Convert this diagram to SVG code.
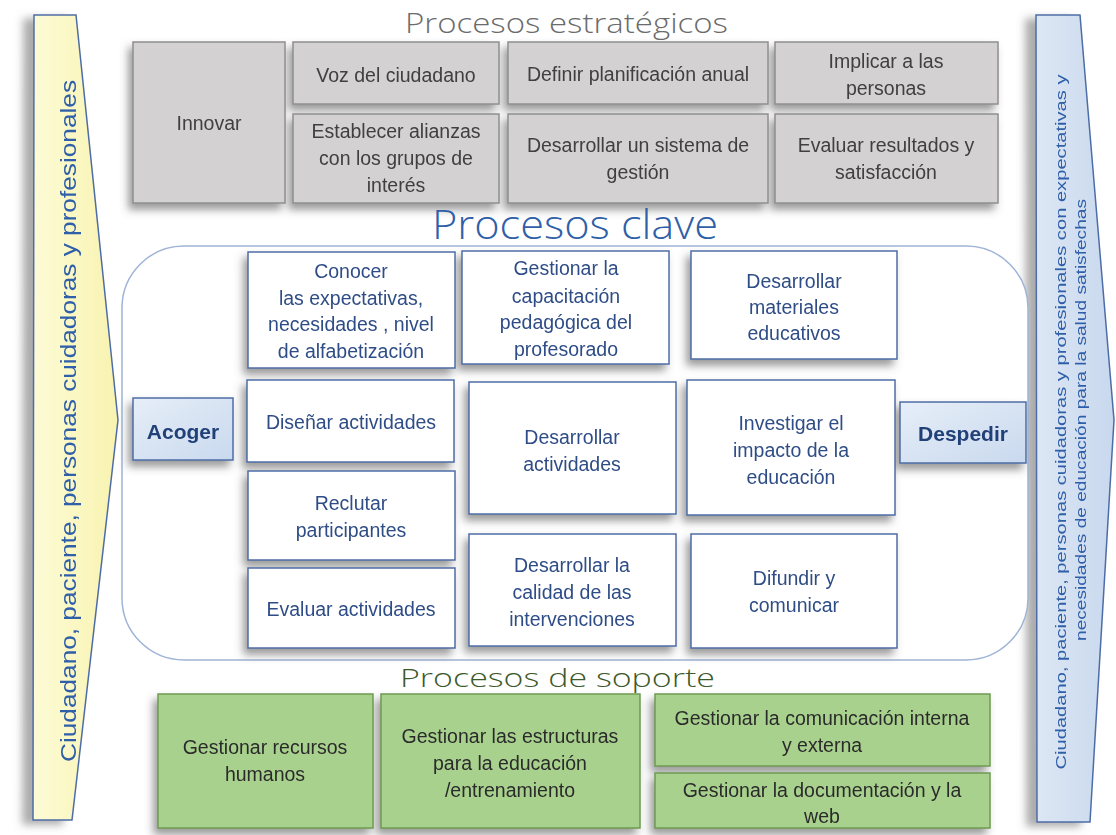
<svg xmlns="http://www.w3.org/2000/svg" width="1116" height="835" viewBox="0 0 1116 835">
<defs>
<filter id="sh" x="-20%" y="-20%" width="140%" height="150%">
<feDropShadow dx="-4" dy="6" stdDeviation="4" flood-color="#555" flood-opacity="0.6"/>
</filter>
<filter id="sha" x="-40%" y="-5%" width="180%" height="110%">
<feDropShadow dx="-10" dy="4" stdDeviation="4" flood-color="#666" flood-opacity="0.55"/>
</filter>
<linearGradient id="gBlue" x1="0" y1="0" x2="1" y2="1">
<stop offset="0" stop-color="#e6eef8"/><stop offset="1" stop-color="#c9d9ee"/>
</linearGradient>
<linearGradient id="gYel" x1="0" y1="0" x2="1" y2="0">
<stop offset="0" stop-color="#fdfbd6"/><stop offset="1" stop-color="#f8f3b0"/>
</linearGradient>
<linearGradient id="gArrB" x1="0" y1="0" x2="1" y2="0">
<stop offset="0" stop-color="#dde7f4"/><stop offset="1" stop-color="#c8d8ee"/>
</linearGradient>
</defs>
<style>
.t{font-family:"Liberation Sans","Open Sans",sans-serif;font-size:19.5px;text-anchor:middle;dominant-baseline:central}
.st{fill:#d3d1d1;stroke:#8f8f8f;stroke-width:1.5}
.stt{fill:#404040}
.ky{fill:#ffffff;stroke:#4d6da6;stroke-width:1.5}
.kyt{fill:#2f4d86}
.sp{fill:#a9d18e;stroke:#6f9a52;stroke-width:1.5}
.spt{fill:#2b2b2b}
.io{fill:url(#gBlue);stroke:#4d6da6;stroke-width:1.5}
.iot{fill:#234178;font-weight:bold;font-size:21px}
.ttl{font-family:"Open Sans","DejaVu Sans",sans-serif;font-weight:300;text-anchor:start}
</style>
<rect width="1116" height="835" fill="#ffffff"/>

<g id="arrow-left" filter="url(#sha)">
<polygon points="34,15 76,15 118,420 72,820 33,820" fill="url(#gYel)" stroke="#4d6da6" stroke-width="1.5"/>
<text class="t" x="68" y="421" transform="rotate(-90 68 421)" style="font-size:22px;fill:#2f5fa8" textLength="682" lengthAdjust="spacingAndGlyphs">Ciudadano, paciente, personas cuidadoras y profesionales</text>
</g>

<g id="arrow-right" filter="url(#sha)">
<polygon points="1036,15 1080,15 1114,420 1090,822 1037,822" fill="url(#gArrB)" stroke="#4d6da6" stroke-width="1.5"/>
<text class="t" x="1060" y="422" transform="rotate(-90 1060 422)" style="font-size:15.5px;fill:#2f5fa8" textLength="695" lengthAdjust="spacingAndGlyphs">Ciudadano, paciente, personas cuidadoras y profesionales con expectativas y</text>
<text class="t" x="1080" y="420" transform="rotate(-90 1080 420)" style="font-size:15.5px;fill:#2f5fa8" textLength="442" lengthAdjust="spacingAndGlyphs">necesidades de educación para la salud satisfechas</text>
</g>

<g id="title-estrategicos">
<text class="ttl" x="405" y="33" style="font-size:28px;fill:#6b6b6b" textLength="323" lengthAdjust="spacingAndGlyphs">Procesos estratégicos</text>
</g>

<g id="strategic" filter="url(#sh)">
<g id="innovar"><rect class="st" x="133" y="42" width="152" height="161"/><text class="t stt" x="209" y="123">Innovar</text></g>
<g id="voz"><rect class="st" x="293" y="42" width="206" height="62"/><text class="t stt" x="396" y="75">Voz del ciudadano</text></g>
<g id="alianzas"><rect class="st" x="293" y="114" width="206" height="89"/><text class="t stt" x="396"><tspan x="396" y="131">Establecer alianzas</tspan><tspan x="396" y="158">con los grupos de</tspan><tspan x="396" y="185">interés</tspan></text></g>
<g id="planificacion"><rect class="st" x="508" y="42" width="260" height="62"/><text class="t stt" x="638" y="74">Definir planificación anual</text></g>
<g id="sistema"><rect class="st" x="508" y="114" width="260" height="89"/><text class="t stt" x="638"><tspan x="638" y="145">Desarrollar un sistema de</tspan><tspan x="638" y="172">gestión</tspan></text></g>
<g id="implicar"><rect class="st" x="775" y="42" width="223" height="62"/><text class="t stt" x="886"><tspan x="886" y="61">Implicar a las</tspan><tspan x="886" y="88">personas</tspan></text></g>
<g id="evaluar-resultados"><rect class="st" x="775" y="114" width="223" height="89"/><text class="t stt" x="886"><tspan x="886" y="145">Evaluar resultados y</tspan><tspan x="886" y="172">satisfacción</tspan></text></g>
</g>

<g id="title-clave">
<text class="ttl" x="432" y="239" style="font-size:40px;fill:#2f5fa8" textLength="286" lengthAdjust="spacingAndGlyphs">Procesos clave</text>
</g>

<g id="clave-frame">
<rect x="122" y="246" width="906" height="414" rx="62" ry="62" fill="#ffffff" stroke="#9fb4d6" stroke-width="1.5"/>
</g>

<g id="clave" filter="url(#sh)">
<g id="conocer"><rect class="ky" x="248" y="252" width="207" height="116"/><text class="t kyt" x="351"><tspan x="351" y="271">Conocer</tspan><tspan x="351" y="298">las expectativas,</tspan><tspan x="351" y="324">necesidades , nivel</tspan><tspan x="351" y="351">de alfabetización</tspan></text></g>
<g id="capacitacion"><rect class="ky" x="462" y="251" width="207" height="113"/><text class="t kyt" x="566"><tspan x="566" y="268">Gestionar la</tspan><tspan x="566" y="296">capacitación</tspan><tspan x="566" y="322">pedagógica del</tspan><tspan x="566" y="349">profesorado</tspan></text></g>
<g id="materiales"><rect class="ky" x="691" y="251" width="206" height="108"/><text class="t kyt" x="794"><tspan x="794" y="281">Desarrollar</tspan><tspan x="794" y="307">materiales</tspan><tspan x="794" y="333">educativos</tspan></text></g>
<g id="disenar"><rect class="ky" x="247" y="380" width="207" height="82"/><text class="t kyt" x="351" y="422">Diseñar actividades</text></g>
<g id="reclutar"><rect class="ky" x="248" y="471" width="207" height="89"/><text class="t kyt" x="351"><tspan x="351" y="503">Reclutar</tspan><tspan x="351" y="530">participantes</tspan></text></g>
<g id="evaluar-act"><rect class="ky" x="248" y="568" width="207" height="80"/><text class="t kyt" x="351" y="609">Evaluar actividades</text></g>
<g id="desarrollar-act"><rect class="ky" x="469" y="382" width="207" height="132"/><text class="t kyt" x="572"><tspan x="572" y="437">Desarrollar</tspan><tspan x="572" y="464">actividades</tspan></text></g>
<g id="investigar"><rect class="ky" x="687" y="380" width="208" height="135"/><text class="t kyt" x="791"><tspan x="791" y="423">Investigar el</tspan><tspan x="791" y="450">impacto de la</tspan><tspan x="791" y="477">educación</tspan></text></g>
<g id="calidad"><rect class="ky" x="469" y="534" width="207" height="112"/><text class="t kyt" x="572"><tspan x="572" y="565">Desarrollar la</tspan><tspan x="572" y="592">calidad de las</tspan><tspan x="572" y="619">intervenciones</tspan></text></g>
<g id="difundir"><rect class="ky" x="691" y="534" width="206" height="114"/><text class="t kyt" x="794"><tspan x="794" y="578">Difundir  y</tspan><tspan x="794" y="605">comunicar</tspan></text></g>
<g id="acoger"><rect class="io" x="133" y="398" width="100" height="62"/><text class="t iot" x="183" y="431">Acoger</text></g>
<g id="despedir"><rect class="io" x="900" y="402" width="126" height="61"/><text class="t iot" x="963" y="433">Despedir</text></g>
</g>

<g id="title-soporte">
<text class="ttl" x="400" y="687" style="font-size:26px;fill:#3d5a2a" textLength="315" lengthAdjust="spacingAndGlyphs">Procesos de soporte</text>
</g>

<g id="soporte" filter="url(#sh)">
<g id="rrhh"><rect class="sp" x="158" y="694" width="215" height="134"/><text class="t spt" x="265"><tspan x="265" y="747">Gestionar recursos</tspan><tspan x="265" y="774">humanos</tspan></text></g>
<g id="estructuras"><rect class="sp" x="381" y="694" width="259" height="134"/><text class="t spt" x="510"><tspan x="510" y="736">Gestionar las estructuras</tspan><tspan x="510" y="763">para la educación</tspan><tspan x="510" y="790">/entrenamiento</tspan></text></g>
<g id="comunicacion"><rect class="sp" x="655" y="694" width="335" height="72"/><text class="t spt" x="822"><tspan x="822" y="718">Gestionar la comunicación interna</tspan><tspan x="822" y="745">y externa</tspan></text></g>
<g id="documentacion"><rect class="sp" x="655" y="773" width="335" height="55"/><text class="t spt" x="822"><tspan x="822" y="790">Gestionar la documentación y la</tspan><tspan x="822" y="816">web</tspan></text></g>
</g>

<g id="connectors"/>
</svg>
